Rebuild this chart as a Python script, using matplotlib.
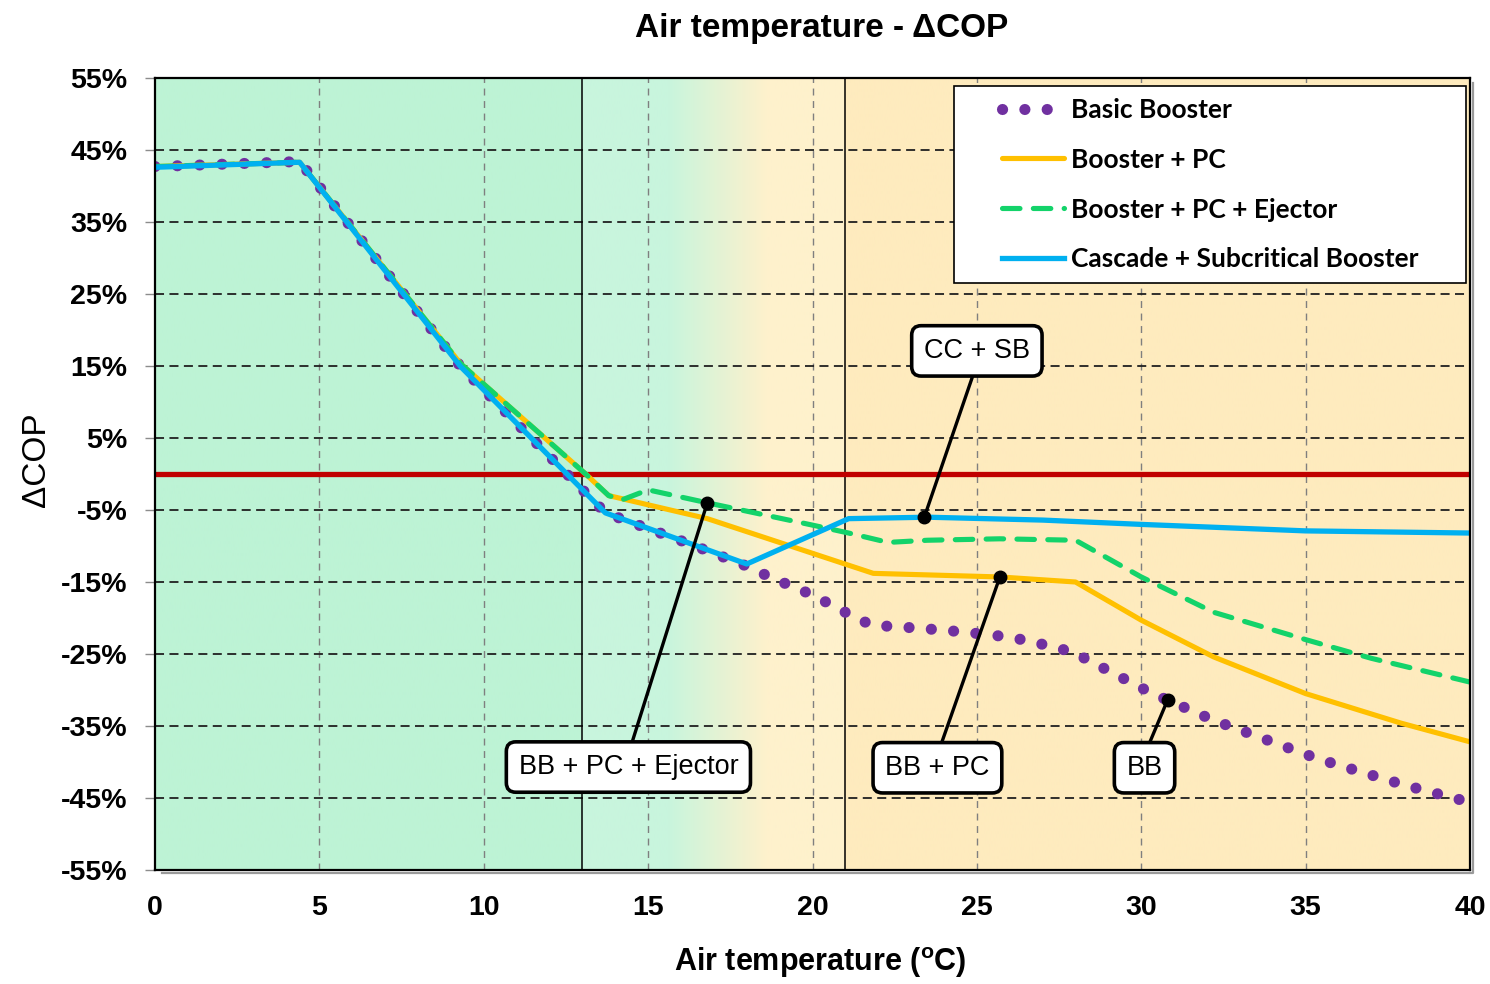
import numpy as np
import matplotlib
matplotlib.use("Agg")
import matplotlib.pyplot as plt
from matplotlib import transforms
from matplotlib.path import Path

# Air temperature (C) and delta COP (%) for each system
bb_t = [0, 4.4, 9.3, 13.7, 16.2, 18.0, 18.7, 20.0, 21.2, 21.8, 23.2, 24.5,
        25.9, 26.6, 27.9, 30.3, 32.2, 35.4, 38.0, 40]
bb_cop = [42.7, 43.4, 14.9, -5.4, -9.6, -12.8, -14.3, -16.8, -19.7, -21.0,
          -21.4, -21.9, -22.6, -23.2, -24.7, -30.4, -34.2, -39.6, -43.2, -45.6]

pc_t = [0, 4.4, 9.3, 13.1, 13.8, 16.8, 21.85, 25.7, 28.0, 30.0, 32.2, 35.0,
        37.9, 40]
pc_cop = [42.7, 43.3, 15.3, 0.0, -3.0, -6.2, -13.8, -14.3, -15.0, -20.3,
          -25.4, -30.5, -34.6, -37.2]

ej_t = [0, 4.4, 9.3, 13.1, 13.8, 14.2, 15.0, 16.8, 20.0, 21.1, 22.3, 23.5,
        25.7, 28.0, 30.0, 32.2, 35.0, 37.0, 40]
ej_cop = [42.7, 43.3, 15.3, 0.0, -3.0, -3.6, -2.2, -4.0, -7.1, -8.2, -9.5,
          -9.2, -9.0, -9.2, -14.3, -19.2, -23.0, -25.6, -28.9]

cs_t = [0, 4.4, 9.3, 13.7, 18.0, 21.1, 23.5, 27.0, 30.0, 35.0, 40]
cs_cop = [42.6, 43.3, 14.9, -5.4, -12.5, -6.2, -6.0, -6.4, -7.0, -7.9, -8.2]

labels = ["Basic Booster", "Booster + PC", "Booster + PC + Ejector",
          "Cascade + Subcritical Booster"]

# climate zones (C)
zone_edges = [13, 21]

# callouts: text, temperature of the marked point, which series, box position
callouts = [
    ("CC + SB", 23.4, "cs", (25.0, 17.1)),
    ("BB + PC + Ejector", 16.8, "ej", (14.4, -40.7)),
    ("BB + PC", 25.7, "pc", (23.8, -40.8)),
    ("BB", 30.8, "bb", (30.1, -40.8)),
]

narrow = ["Liberation Sans Narrow", "Liberation Sans", "DejaVu Sans"]
sans = ["Liberation Sans", "DejaVu Sans"]

fig = plt.figure(figsize=(14.9, 9.84), dpi=100)
ax = fig.add_axes([155 / 1490, 1 - 870 / 984, 1315 / 1490, 792 / 984])

# background shading: cold zone, transition, warm zone
xs = np.linspace(0, 40, 801)
green = np.array([189, 243, 213]) / 255
mint = np.array([200, 245, 221]) / 255
cream = np.array([254, 241, 204]) / 255
warm = np.array([254, 235, 190]) / 255
cols = np.zeros((len(xs), 3))
for i, x in enumerate(xs):
    if x < 13:
        c = green
    elif x < 15.6:
        c = mint
    elif x < 18.6:
        f = (x - 15.6) / 3.0
        c = mint * (1 - f) + cream * f
    elif x < 21:
        c = cream
    else:
        c = warm
    cols[i] = c
ax.imshow(cols[None, :, :], extent=[0, 40, -55, 55], aspect="auto",
          interpolation="bilinear", zorder=0)

ax.set_xlim(0, 40)
ax.set_ylim(-55, 55)
ax.set_xticks(np.arange(0, 41, 5))
ax.set_yticks(np.arange(-55, 56, 10))
ax.set_yticklabels([f"{v}%" for v in np.arange(-55, 56, 10)])

for v in np.arange(5, 40, 5):
    ax.axvline(v, color="#7f7f7f", lw=1.0, dashes=(5, 4), zorder=1)
for v in np.arange(-45, 55, 10):
    ax.axhline(v, color="#202020", lw=1.3, dashes=(5, 3), zorder=1)
for v in zone_edges:
    ax.axvline(v, color="black", lw=1.1, zorder=1.5)
ax.axhline(0, color="#c00000", lw=3.8, zorder=2)

ax.plot(bb_t, bb_cop, color="#7030a0", lw=8.0, dashes=(0.01, 2.0),
        dash_capstyle="round", label=labels[0], zorder=3)
ax.plot(pc_t, pc_cop, color="#ffc000", lw=3.7, solid_capstyle="round",
        solid_joinstyle="round", label=labels[1], zorder=4)
ax.plot(ej_t, ej_cop, color="#13d36a", lw=3.7, dashes=(3.4, 2.6),
        dash_capstyle="round", label=labels[2], zorder=5)
ax.plot(cs_t, cs_cop, color="#00b0f0", lw=3.8, solid_joinstyle="round",
        label=labels[3], zorder=6)

series = {"bb": (bb_t, bb_cop), "pc": (pc_t, pc_cop),
          "ej": (ej_t, ej_cop), "cs": (cs_t, cs_cop)}
for text, tx, key, (bx, by) in callouts:
    ty = np.interp(tx, *series[key])
    rel = (0.5, 0.0) if by > ty else (0.5, 1.0)
    ax.annotate(text, xy=(tx, ty), xytext=(bx, by), ha="center", va="center",
                fontsize=19.5, family=sans, zorder=8,
                bbox=dict(boxstyle="round,pad=0.45,rounding_size=0.35",
                          fc="white", ec="black", lw=2.6),
                arrowprops=dict(arrowstyle="-", color="black", lw=2.4,
                                shrinkA=0, shrinkB=0, relpos=rel))
    ax.plot(tx, ty, "o", color="black", ms=9, zorder=9)

for s in ax.spines.values():
    s.set_linewidth(1.6)
    s.set_color("black")
    s.set_zorder(7)

# thin grey shadow on the right and bottom edges
sh = transforms.offset_copy(ax.transAxes, fig=fig, x=2.2, y=-2.2, units="points")
ax.plot([0.003, 1, 1], [0, 0, 0.997], color="#9a9a9a", lw=1.6,
        transform=sh, clip_on=False, zorder=7)

ax.tick_params(axis="y", length=7, width=1, color="#8c8c8c", pad=13,
               labelsize=20.5)
ax.tick_params(axis="x", length=0, pad=18, labelsize=20.5)
for lab in ax.get_xticklabels() + ax.get_yticklabels():
    lab.set_family(narrow)
    lab.set_weight("bold")

# legend frame padded wider left/right than top/bottom
LEG_DX = 36


def wide_box(x0, y0, width, height, mutation_size):
    return Path([(x0 - LEG_DX, y0), (x0 + width + LEG_DX, y0),
                 (x0 + width + LEG_DX, y0 + height),
                 (x0 - LEG_DX, y0 + height), (x0 - LEG_DX, y0)], closed=True)


leg = ax.legend(loc="upper right",
                bbox_to_anchor=((1466 - LEG_DX - 155) / 1315, 0.990),
                borderaxespad=0, frameon=True, fancybox=False, framealpha=1,
                edgecolor="black", handlelength=2.35, handletextpad=0.25,
                labelspacing=0.98, borderpad=0.45,
                prop={"family": "Lato", "weight": "bold", "size": 19})
leg.get_frame().set_boxstyle(wide_box)
leg.get_frame().set_linewidth(1.2)
leg.set_zorder(10)

fig.text(822 / 1490, 1 - 29 / 984, "Air temperature - \u0394COP",
         ha="center", va="center", fontsize=24, weight="bold", family=sans)
fig.text(820 / 1490, 1 - 963 / 984, r"Air temperature ($\mathregular{^o}$C)",
         ha="center", va="center", fontsize=22, weight="bold", family=sans)
fig.text(37 / 1490, 1 - 460 / 984, "\u0394COP", rotation=90,
         ha="center", va="center", fontsize=24, family=sans)

fig.savefig("out.png", dpi=100)
